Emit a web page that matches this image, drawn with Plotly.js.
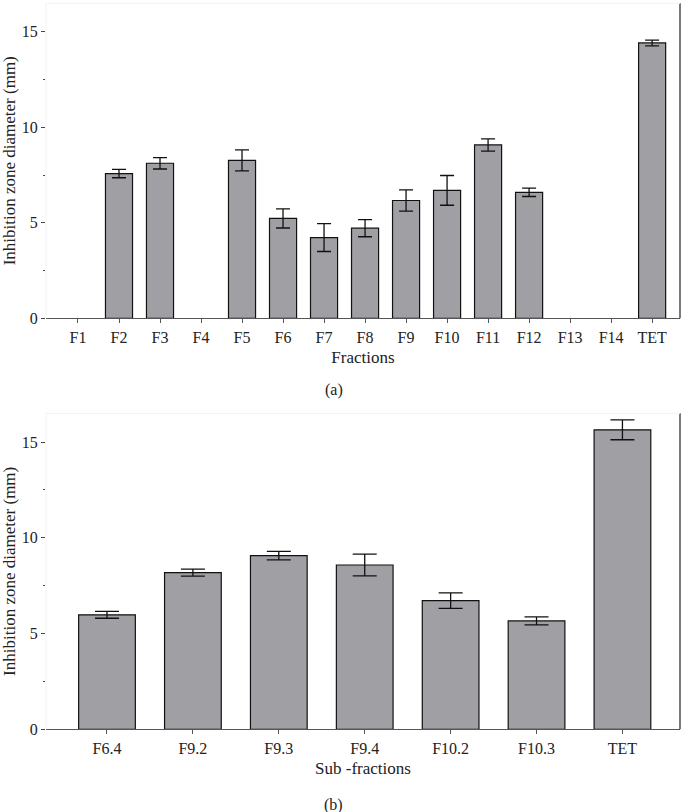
<!DOCTYPE html>
<html>
<head>
<meta charset="utf-8">
<script src="https://cdn.plot.ly/plotly-3.0.1.min.js"></script>
<style>
  html, body { margin: 0; padding: 0; background: #fff; }
  #chart { width: 686px; height: 812px; }
</style>
</head>
<body>
<div id="chart"></div>
<script>
// Panel (a): crude fractions
const fractions = ['F1','F2','F3','F4','F5','F6','F7','F8','F9','F10','F11','F12','F13','F14','TET'];
const fractionMeans = [0, 7.58, 8.12, 0, 8.27, 5.23, 4.23, 4.72, 6.17, 6.70, 9.08, 6.60, 0, 0, 14.42];
const fractionSD    = [0, 0.22, 0.30, 0, 0.55, 0.50, 0.73, 0.45, 0.56, 0.78, 0.32, 0.22, 0, 0, 0.15];

// Panel (b): sub-fractions
const subFractions = ['F6.4','F9.2','F9.3','F9.4','F10.2','F10.3','TET'];
const subMeans = [5.98, 8.18, 9.07, 8.58, 6.72, 5.66, 15.64];
const subSD    = [0.18, 0.18, 0.22, 0.57, 0.40, 0.21, 0.52];

const barFill = '#a09fa4';
const serif = 'Liberation Serif';
const textColor = '#222';

function barTrace(cats, means, xa, ya) {
  return {
    type: 'bar',
    x: cats,
    y: means,
    xaxis: xa,
    yaxis: ya,
    width: 0.66,
    marker: {
      color: barFill,
      line: { color: '#111', width: means.map(v => v > 0 ? 1.2 : 0) }
    },
    hoverinfo: 'x+y',
    showlegend: false
  };
}

// error bars only where a zone was measured
function errorTrace(cats, means, sd, xa, ya, capW) {
  return {
    type: 'scatter',
    mode: 'markers',
    x: cats,
    y: means.map(v => v > 0 ? v : null),
    xaxis: xa,
    yaxis: ya,
    marker: { size: 1, opacity: 0 },
    error_y: {
      type: 'data',
      array: sd,
      visible: true,
      color: '#111',
      thickness: 1.3,
      width: capW
    },
    hoverinfo: 'skip',
    showlegend: false
  };
}

function yAxis(domain, anchor) {
  return {
    domain: domain,
    anchor: anchor,
    range: [0, 16.5],
    tickvals: [0, 5, 10, 15],
    ticks: 'outside',
    ticklen: 4,
    tickcolor: '#444',
    showgrid: false,
    zeroline: false,
    showline: false,
    tickfont: { family: serif, size: 16, color: textColor },
    minor: { tickvals: [2.5, 7.5, 12.5], ticks: 'outside', ticklen: 2, tickcolor: '#444' },
    title: { text: 'Inhibition zone diameter (mm)', font: { family: serif, size: 17, color: textColor }, standoff: 10 }
  };
}

function xAxis(range, anchor, titleText) {
  return {
    anchor: anchor,
    type: 'category',
    range: range,
    ticks: 'outside',
    ticklen: 4,
    tickcolor: '#555',
    showline: true,
    linecolor: '#555',
    linewidth: 1,
    showgrid: false,
    zeroline: false,
    tickfont: { family: serif, size: 16, color: textColor },
    title: { text: titleText, font: { family: serif, size: 17, color: textColor }, standoff: 6 }
  };
}

const data = [
  barTrace(fractions, fractionMeans, 'x', 'y'),
  errorTrace(fractions, fractionMeans, fractionSD, 'x', 'y', 7),
  barTrace(subFractions, subMeans, 'x2', 'y2'),
  errorTrace(subFractions, subMeans, subSD, 'x2', 'y2', 12)
];

// frame lines: faint left/top, dark right edge
function frame(xd, yd) {
  return [
    { type: 'line', xref: xd, yref: yd, x0: 1, x1: 1, y0: 0, y1: 1, line: { color: '#222', width: 1.2 } },
    { type: 'line', xref: xd, yref: yd, x0: 0, x1: 0, y0: 0, y1: 1, line: { color: '#f2f2f2', width: 1 } },
    { type: 'line', xref: xd, yref: yd, x0: 0, x1: 1, y0: 1, y1: 1, line: { color: '#f2f2f2', width: 1 } }
  ];
}

const layout = {
  width: 686,
  height: 812,
  margin: { l: 46, r: 6, t: 0, b: 0 },
  paper_bgcolor: '#fff',
  plot_bgcolor: '#fff',
  font: { family: serif, color: textColor },
  xaxis: xAxis([-0.78, 14.68], 'y', 'Fractions'),
  yaxis: yAxis([0.608, 0.996], 'x'),
  xaxis2: xAxis([-0.71, 6.67], 'y2', 'Sub -fractions'),
  yaxis2: yAxis([0.1018, 0.491], 'x2'),
  shapes: frame('x domain', 'y domain').concat(frame('x2 domain', 'y2 domain')),
  annotations: [
    { text: '(a)', xref: 'paper', yref: 'paper', x: 0.4536, y: 1 - 390 / 812, xanchor: 'center', yanchor: 'middle', showarrow: false, font: { family: serif, size: 16, color: textColor } },
    { text: '(b)', xref: 'paper', yref: 'paper', x: 0.4536, y: 1 - 805 / 812, xanchor: 'center', yanchor: 'middle', showarrow: false, font: { family: serif, size: 16, color: textColor } }
  ]
};

Plotly.newPlot('chart', data, layout, { displayModeBar: false, staticPlot: true });
</script>
</body>
</html>
